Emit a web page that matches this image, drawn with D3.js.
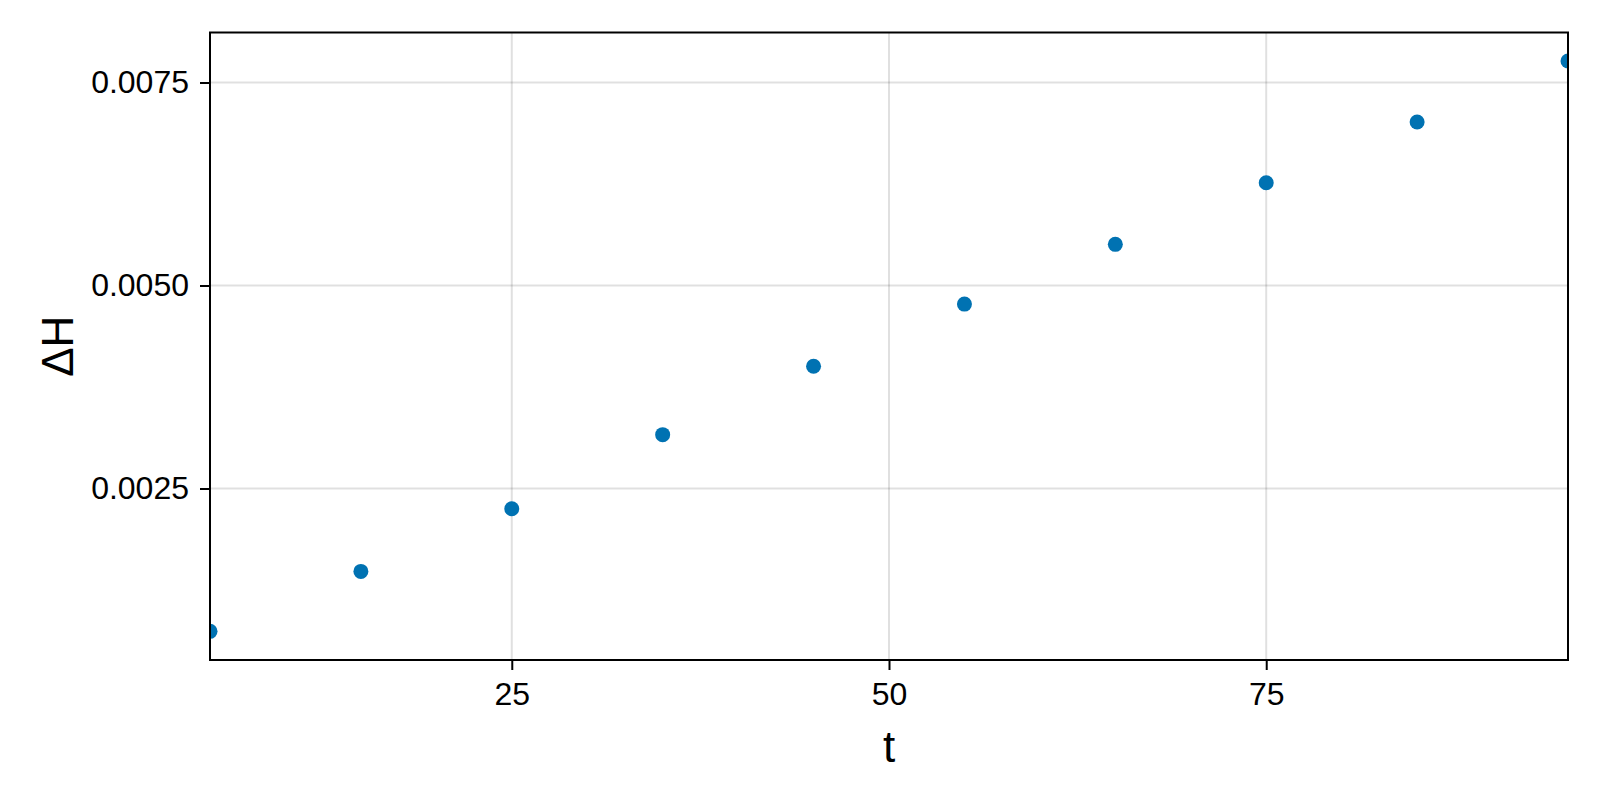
<!DOCTYPE html>
<html>
<head>
<meta charset="utf-8">
<script src="https://cdn.jsdelivr.net/npm/d3@7"></script>
<style>
  html, body { margin: 0; padding: 0; background: #fff; }
  svg { display: block; }
  text { font-family: "Liberation Sans", Arial, Helvetica, sans-serif; fill: #000; }
</style>
</head>
<body>
<script>
// Data
const tValues = [5, 15, 25, 35, 45, 55, 65, 75, 85, 95];
const dHValues = [0.000741, 0.001479, 0.002251, 0.003163, 0.004005, 0.004771, 0.005507, 0.006266, 0.007014, 0.007765];
const xTicks = [25, 50, 75];
const yTicks = [0.0025, 0.0050, 0.0075];
const yTickLabels = ["0.0025", "0.0050", "0.0075"];
const xLabel = "t";
const yLabel = "ΔH";

const W = 1600, H = 800;
const plot = { left: 210, right: 1568, top: 32.5, bottom: 660 };

const svg = d3.select("body").append("svg").attr("width", W).attr("height", H);

const x = d3.scaleLinear().domain([5, 95]).range([plot.left, plot.right]);
const y = d3.scaleLinear().domain([0.000388, 0.008116]).range([plot.bottom, plot.top]);

svg.append("defs").append("clipPath").attr("id", "clip")
  .append("rect").attr("x", plot.left).attr("y", plot.top)
  .attr("width", plot.right - plot.left).attr("height", plot.bottom - plot.top);

// grid
const grid = svg.append("g");
grid.selectAll("line.gx").data(xTicks).join("line")
  .attr("x1", d => x(d)).attr("x2", d => x(d))
  .attr("y1", plot.top).attr("y2", plot.bottom)
  .attr("stroke", "#000").attr("stroke-opacity", 0.12).attr("stroke-width", 2);
grid.selectAll("line.gy").data(yTicks).join("line")
  .attr("y1", d => y(d)).attr("y2", d => y(d))
  .attr("x1", plot.left).attr("x2", plot.right)
  .attr("stroke", "#000").attr("stroke-opacity", 0.12).attr("stroke-width", 2);

// points
svg.append("g").attr("clip-path", "url(#clip)")
  .selectAll("circle").data(tValues).join("circle")
  .attr("cx", d => x(d))
  .attr("cy", (d, i) => y(dHValues[i]))
  .attr("r", 7.5)
  .attr("fill", "#0072B2");

// axes
const xAxis = d3.axisBottom(x).tickValues(xTicks).tickSize(10).tickPadding(12).tickFormat(d3.format("d"));
const gx = svg.append("g").attr("transform", `translate(0,${plot.bottom})`).call(xAxis);
gx.attr("font-size", null).attr("font-family", null);
gx.select(".domain").remove();
gx.selectAll(".tick line").attr("stroke", "#000").attr("stroke-width", 2);
gx.selectAll(".tick text").style("font-size", "32px");

const yAxis = d3.axisLeft(y).tickValues(yTicks).tickSize(10).tickPadding(11)
  .tickFormat((d, i) => yTickLabels[i]);
const gy = svg.append("g").attr("transform", `translate(${plot.left},0)`).call(yAxis);
gy.attr("font-size", null).attr("font-family", null);
gy.select(".domain").remove();
gy.selectAll(".tick line").attr("stroke", "#000").attr("stroke-width", 2);
gy.selectAll(".tick text").style("font-size", "32px");

// frame
svg.append("rect")
  .attr("x", plot.left).attr("y", plot.top)
  .attr("width", plot.right - plot.left).attr("height", plot.bottom - plot.top)
  .attr("fill", "none").attr("stroke", "#000").attr("stroke-width", 2);

// labels
svg.append("text")
  .attr("x", (plot.left + plot.right) / 2).attr("y", 761.5)
  .attr("text-anchor", "middle").style("font-size", "44px")
  .text(xLabel);
svg.append("text")
  .attr("transform", `translate(72.5,${(plot.top + plot.bottom) / 2}) rotate(-90)`)
  .attr("text-anchor", "middle").style("font-size", "44px")
  .text(yLabel);
</script>
</body>
</html>
